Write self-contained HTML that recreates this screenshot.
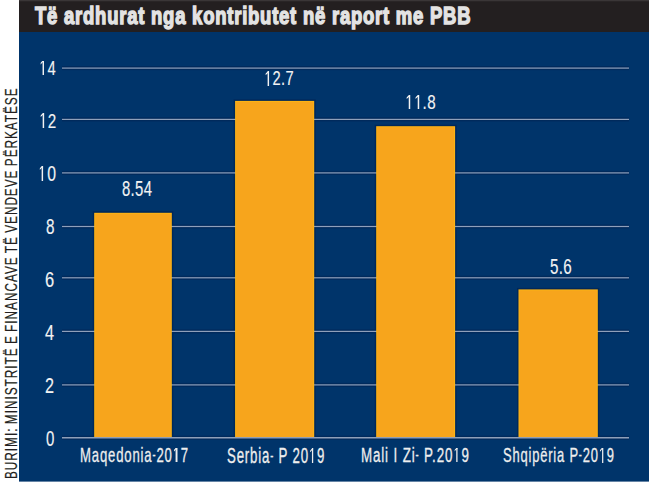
<!DOCTYPE html>
<html><head><meta charset="utf-8"><style>
html,body{margin:0;padding:0;background:#fff;width:650px;height:495px;overflow:hidden}
.t{position:absolute;white-space:pre;font-family:"Liberation Sans",sans-serif;transform-origin:0 0;line-height:1}
svg{position:absolute;left:0;top:0}
.o{font-style:normal;position:relative;color:transparent;-webkit-text-stroke-color:transparent}
.h{font-style:normal;font-size:0.7em;position:relative;top:-0.14em}
.o::before,.o::after{content:"";position:absolute;background:var(--c)}
.o::before{left:calc(0.2515em - var(--s)/2);width:calc(0.0884em + var(--s));top:calc(0.2173em - var(--s)/2);height:calc(0.688em + var(--s))}
.o::after{left:calc(0.0962em - var(--s)/2);width:calc(0.2437em + var(--s)/2);top:calc(0.2173em - var(--s)/2);height:0.1948em;clip-path:polygon(0% 100%,0% 57.4%,66.7% 0%,100% 0%,100% 43.1%,63.7% 43.1%)}
</style></head><body>
<svg width="650" height="495" viewBox="0 0 650 495">
<rect x="19" y="0" width="630" height="32" fill="#231f20"/>
<rect x="19" y="0" width="630" height="1.3" fill="#3a3637"/>
<rect x="19" y="32" width="630" height="449.6" fill="#00346a"/>
<rect x="92.70" y="211.30" width="80.60" height="225.90" fill="#00285a"/>
<rect x="233.60" y="99.40" width="82.10" height="337.80" fill="#00285a"/>
<rect x="374.70" y="124.70" width="81.90" height="312.50" fill="#00285a"/>
<rect x="517.00" y="287.90" width="82.30" height="149.30" fill="#00285a"/>
<rect x="62" y="66.10" width="567" height="4" fill="#002a5c"/>
<rect x="62" y="67.50" width="567" height="1.2" fill="#8fa0bb"/>
<rect x="62" y="117.40" width="567" height="4" fill="#002a5c"/>
<rect x="62" y="118.80" width="567" height="1.2" fill="#8fa0bb"/>
<rect x="62" y="170.90" width="567" height="4" fill="#002a5c"/>
<rect x="62" y="172.30" width="567" height="1.2" fill="#8fa0bb"/>
<rect x="62" y="224.50" width="567" height="4" fill="#002a5c"/>
<rect x="62" y="225.90" width="567" height="1.2" fill="#8fa0bb"/>
<rect x="62" y="275.80" width="567" height="4" fill="#002a5c"/>
<rect x="62" y="277.20" width="567" height="1.2" fill="#8fa0bb"/>
<rect x="62" y="329.40" width="567" height="4" fill="#002a5c"/>
<rect x="62" y="330.80" width="567" height="1.2" fill="#8fa0bb"/>
<rect x="62" y="382.90" width="567" height="4" fill="#002a5c"/>
<rect x="62" y="384.30" width="567" height="1.2" fill="#8fa0bb"/>
<rect x="62" y="435.70" width="567" height="4" fill="#002a5c"/>
<rect x="62" y="437.10" width="567" height="1.2" fill="#8fa0bb"/>
<rect x="94.2" y="212.8" width="77.60" height="224.40" fill="#fdb513"/>
<rect x="95.20" y="213.80" width="75.60" height="223.40" fill="#f7a51c"/>
<rect x="235.1" y="100.9" width="79.10" height="336.30" fill="#fdb513"/>
<rect x="236.10" y="101.90" width="77.10" height="335.30" fill="#f7a51c"/>
<rect x="376.2" y="126.2" width="78.90" height="311.00" fill="#fdb513"/>
<rect x="377.20" y="127.20" width="76.90" height="310.00" fill="#f7a51c"/>
<rect x="518.5" y="289.4" width="79.30" height="147.80" fill="#fdb513"/>
<rect x="519.50" y="290.40" width="77.30" height="146.80" fill="#f7a51c"/>
<rect x="62" y="437.10" width="567" height="1.2" fill="#8fa0bb"/>
</svg>
<div class="t" style="left:34.56px;top:4.22px;font-size:23.92px;font-weight:bold;-webkit-text-stroke:1.4px #e3e3e3;letter-spacing:1.0px;--c:#e3e3e3;--s:1.4px;color:#e3e3e3;transform:scaleX(0.7727)">Të ardhurat nga kontributet në raport me PBB</div>
<div class="t" style="left:39.31px;top:58.18px;font-size:20.78px;-webkit-text-stroke:0.15px #f2f2f2;letter-spacing:0.5px;--c:#f2f2f2;--s:0.15px;color:#f2f2f2;transform:scaleX(0.7118)"><i class="o">1</i>4</div>
<div class="t" style="left:38.85px;top:110.76px;font-size:20.77px;-webkit-text-stroke:0.15px #f2f2f2;letter-spacing:0.5px;--c:#f2f2f2;--s:0.15px;color:#f2f2f2;transform:scaleX(0.7340)"><i class="o">1</i>2</div>
<div class="t" style="left:38.41px;top:163.42px;font-size:21.70px;-webkit-text-stroke:0.15px #f2f2f2;letter-spacing:0.5px;--c:#f2f2f2;--s:0.15px;color:#f2f2f2;transform:scaleX(0.7265)"><i class="o">1</i>0</div>
<div class="t" style="left:45.60px;top:216.91px;font-size:21.24px;-webkit-text-stroke:0.15px #f2f2f2;letter-spacing:0.5px;--c:#f2f2f2;--s:0.15px;color:#f2f2f2;transform:scaleX(0.7195)">8</div>
<div class="t" style="left:45.31px;top:268.74px;font-size:22.34px;-webkit-text-stroke:0.15px #f2f2f2;letter-spacing:0.5px;--c:#f2f2f2;--s:0.15px;color:#f2f2f2;transform:scaleX(0.7381)">6</div>
<div class="t" style="left:45.36px;top:322.50px;font-size:21.32px;-webkit-text-stroke:0.15px #f2f2f2;letter-spacing:0.5px;--c:#f2f2f2;--s:0.15px;color:#f2f2f2;transform:scaleX(0.7633)">4</div>
<div class="t" style="left:45.45px;top:375.64px;font-size:21.35px;-webkit-text-stroke:0.15px #f2f2f2;letter-spacing:0.5px;--c:#f2f2f2;--s:0.15px;color:#f2f2f2;transform:scaleX(0.7584)">2</div>
<div class="t" style="left:45.75px;top:428.65px;font-size:21.24px;-webkit-text-stroke:0.15px #f2f2f2;letter-spacing:0.5px;--c:#f2f2f2;--s:0.15px;color:#f2f2f2;transform:scaleX(0.7057)">0</div>
<div class="t" style="left:121.58px;top:178.72px;font-size:21.28px;-webkit-text-stroke:0.15px #f2f2f2;letter-spacing:0.5px;--c:#f2f2f2;--s:0.15px;color:#f2f2f2;transform:scaleX(0.6982)">8.54</div>
<div class="t" style="left:264.30px;top:68.14px;font-size:20.33px;-webkit-text-stroke:0.15px #f2f2f2;letter-spacing:0.5px;--c:#f2f2f2;--s:0.15px;color:#f2f2f2;transform:scaleX(0.7224)"><i class="o">1</i>2.7</div>
<div class="t" style="left:405.33px;top:91.90px;font-size:20.28px;-webkit-text-stroke:0.15px #f2f2f2;letter-spacing:0.5px;--c:#f2f2f2;--s:0.15px;color:#f2f2f2;transform:scaleX(0.7478)"><i class="o">1</i><i class="o">1</i>.8</div>
<div class="t" style="left:549.88px;top:256.63px;font-size:21.32px;-webkit-text-stroke:0.15px #f2f2f2;letter-spacing:0.5px;--c:#f2f2f2;--s:0.15px;color:#f2f2f2;transform:scaleX(0.7110)">5.6</div>
<div class="t" style="left:79.72px;top:445.38px;font-size:20.64px;-webkit-text-stroke:0.3px #eeeeee;letter-spacing:1.3px;--c:#eeeeee;--s:0.3px;color:#eeeeee;transform:scaleX(0.6372)">Maqedonia<i class="h">-</i>20<i class="o">1</i>7</div>
<div class="t" style="left:227.32px;top:444.86px;font-size:21.23px;-webkit-text-stroke:0.3px #eeeeee;letter-spacing:1.3px;--c:#eeeeee;--s:0.3px;color:#eeeeee;transform:scaleX(0.6246)">Serbia<i class="h">-</i> P 20<i class="o">1</i>9</div>
<div class="t" style="left:361.36px;top:445.33px;font-size:20.53px;-webkit-text-stroke:0.3px #eeeeee;letter-spacing:1.3px;--c:#eeeeee;--s:0.3px;color:#eeeeee;transform:scaleX(0.6523)">Mali I Zi<i class="h">-</i> P.20<i class="o">1</i>9</div>
<div class="t" style="left:503.30px;top:445.43px;font-size:20.93px;-webkit-text-stroke:0.3px #eeeeee;letter-spacing:1.3px;--c:#eeeeee;--s:0.3px;color:#eeeeee;transform:scaleX(0.6192)">Shqipëria P<i class="h">-</i>20<i class="o">1</i>9</div>
<div class="t" style="left:2.51px;top:479.21px;font-size:16.09px;-webkit-text-stroke:0.2px #231f20;letter-spacing:1.360px;word-spacing:-1.200px;color:#231f20;transform:rotate(-90deg) scaleX(0.7322)">BURIMI: MINISTRITË E FINANCAVE TË VENDEVE PËRKATËSE</div>
</body></html>
